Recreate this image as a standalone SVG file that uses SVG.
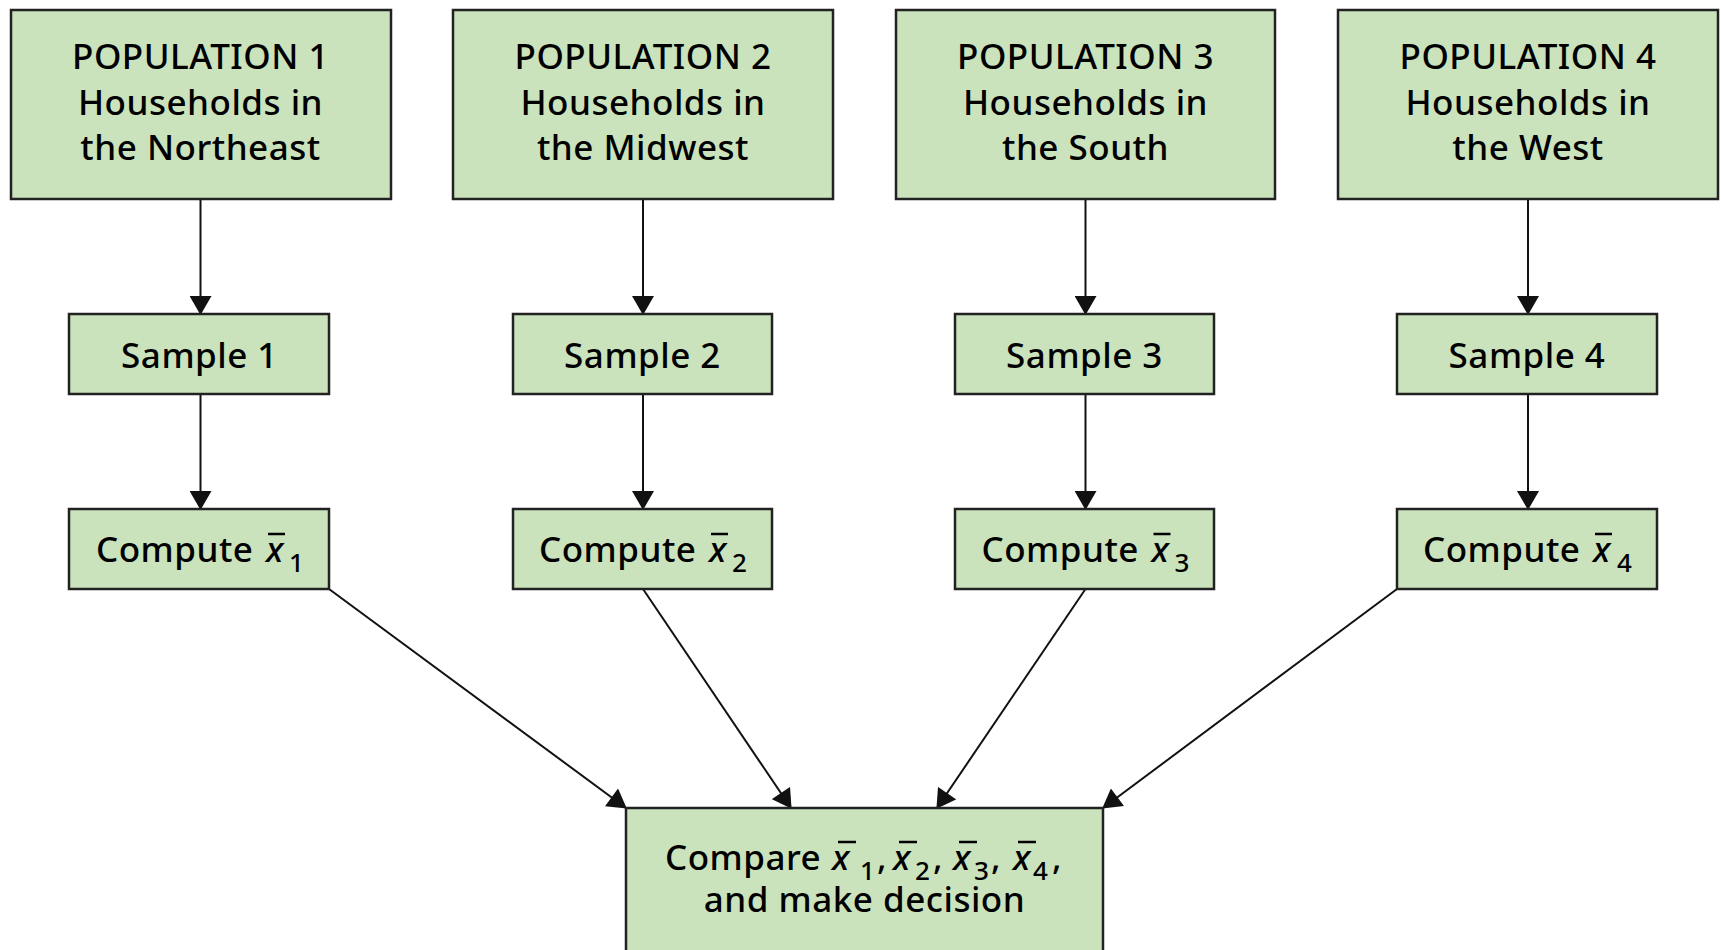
<svg xmlns="http://www.w3.org/2000/svg" width="1721" height="950" viewBox="0 0 1721 950">
<defs>
<style>
.box{fill:#cae3bc;stroke:#222;stroke-width:2.5}
.t{font-family:"Noto Sans","Open Sans",sans-serif;font-size:35px;font-weight:500;letter-spacing:0.5px;fill:#000}
.c{text-anchor:middle}
.it{font-style:italic;letter-spacing:0}
.sub{font-size:26px;letter-spacing:0}
.bar{stroke:#000;stroke-width:2.5}
.con{stroke:#111;stroke-width:2;fill:none;marker-end:url(#ah)}
</style>
<marker id="ah" markerUnits="userSpaceOnUse" markerWidth="20" markerHeight="22" viewBox="0 0 19 22" refX="18" refY="11" orient="auto">
<path d="M0,0 L19,11 L0,22 Z" fill="#111"/>
</marker>
</defs>
<rect width="1721" height="950" fill="#fff"/>
<g id="connectors">
<line class="con" x1="200.5" y1="199" x2="200.5" y2="314"/>
<line class="con" x1="643" y1="199" x2="643" y2="314"/>
<line class="con" x1="1085.5" y1="199" x2="1085.5" y2="314"/>
<line class="con" x1="1528" y1="199" x2="1528" y2="314"/>
<line class="con" x1="200.5" y1="394" x2="200.5" y2="509"/>
<line class="con" x1="643" y1="394" x2="643" y2="509"/>
<line class="con" x1="1085.5" y1="394" x2="1085.5" y2="509"/>
<line class="con" x1="1528" y1="394" x2="1528" y2="509"/>
<line class="con" x1="329" y1="589" x2="626" y2="808"/>
<line class="con" x1="643" y1="589" x2="791" y2="808"/>
<line class="con" x1="1085.5" y1="589" x2="937" y2="808"/>
<line class="con" x1="1397" y1="589" x2="1103" y2="808"/>
</g>
<g id="pop1">
<rect class="box" x="11" y="10" width="380" height="189"/>
<text class="t c" x="200.5" y="69">POPULATION 1</text>
<text class="t c" x="200.5" y="115">Households in</text>
<text class="t c" x="200.5" y="160">the Northeast</text>
</g>
<g id="pop2">
<rect class="box" x="453" y="10" width="380" height="189"/>
<text class="t c" x="643" y="69">POPULATION 2</text>
<text class="t c" x="643" y="115">Households in</text>
<text class="t c" x="643" y="160">the Midwest</text>
</g>
<g id="pop3">
<rect class="box" x="896" y="10" width="379" height="189"/>
<text class="t c" x="1085.5" y="69">POPULATION 3</text>
<text class="t c" x="1085.5" y="115">Households in</text>
<text class="t c" x="1085.5" y="160">the South</text>
</g>
<g id="pop4">
<rect class="box" x="1338" y="10" width="380" height="189"/>
<text class="t c" x="1528" y="69">POPULATION 4</text>
<text class="t c" x="1528" y="115">Households in</text>
<text class="t c" x="1528" y="160">the West</text>
</g>
<g id="sample1">
<rect class="box" x="69" y="314" width="260" height="80"/>
<text class="t c" x="199.5" y="368">Sample 1</text>
</g>
<g id="sample2">
<rect class="box" x="513" y="314" width="259" height="80"/>
<text class="t c" x="642.5" y="368">Sample 2</text>
</g>
<g id="sample3">
<rect class="box" x="955" y="314" width="259" height="80"/>
<text class="t c" x="1084.5" y="368">Sample 3</text>
</g>
<g id="sample4">
<rect class="box" x="1397" y="314" width="260" height="80"/>
<text class="t c" x="1527" y="368">Sample 4</text>
</g>
<g id="compute1">
<rect class="box" x="69" y="509" width="260" height="80"/>
<text class="t" y="562"><tspan x="96">Compute</tspan><tspan class="it" x="266">x</tspan><tspan class="sub" x="289" dy="10">1</tspan></text>
<line class="bar" x1="268" y1="534" x2="285" y2="534"/>
</g>
<g id="compute2">
<rect class="box" x="513" y="509" width="259" height="80"/>
<text class="t" y="562"><tspan x="539">Compute</tspan><tspan class="it" x="709">x</tspan><tspan class="sub" x="732" dy="10">2</tspan></text>
<line class="bar" x1="711" y1="534" x2="728" y2="534"/>
</g>
<g id="compute3">
<rect class="box" x="955" y="509" width="259" height="80"/>
<text class="t" y="562"><tspan x="981.5">Compute</tspan><tspan class="it" x="1151.5">x</tspan><tspan class="sub" x="1174.5" dy="10">3</tspan></text>
<line class="bar" x1="1153.5" y1="534" x2="1170.5" y2="534"/>
</g>
<g id="compute4">
<rect class="box" x="1397" y="509" width="260" height="80"/>
<text class="t" y="562"><tspan x="1423">Compute</tspan><tspan class="it" x="1593">x</tspan><tspan class="sub" x="1617" dy="10">4</tspan></text>
<line class="bar" x1="1595" y1="534" x2="1612" y2="534"/>
</g>
<g id="compare">
<rect class="box" x="626" y="808" width="477" height="160"/>
<text class="t" y="870"><tspan x="665">Compare</tspan><tspan class="it" x="832">x</tspan><tspan class="sub" x="860" dy="10">1</tspan><tspan x="877" dy="-10">,</tspan><tspan class="it" x="893">x</tspan><tspan class="sub" x="915" dy="10">2</tspan><tspan x="933" dy="-10">,</tspan><tspan class="it" x="953">x</tspan><tspan class="sub" x="974" dy="10">3</tspan><tspan x="991" dy="-10">,</tspan><tspan class="it" x="1013">x</tspan><tspan class="sub" x="1033" dy="10">4</tspan><tspan x="1052" dy="-10">,</tspan></text>
<line class="bar" x1="838" y1="842" x2="856" y2="842"/>
<line class="bar" x1="899" y1="842" x2="917" y2="842"/>
<line class="bar" x1="959" y1="842" x2="977" y2="842"/>
<line class="bar" x1="1018" y1="842" x2="1036" y2="842"/>
<text class="t c" x="864.5" y="912">and make decision</text>
</g>
</svg>
